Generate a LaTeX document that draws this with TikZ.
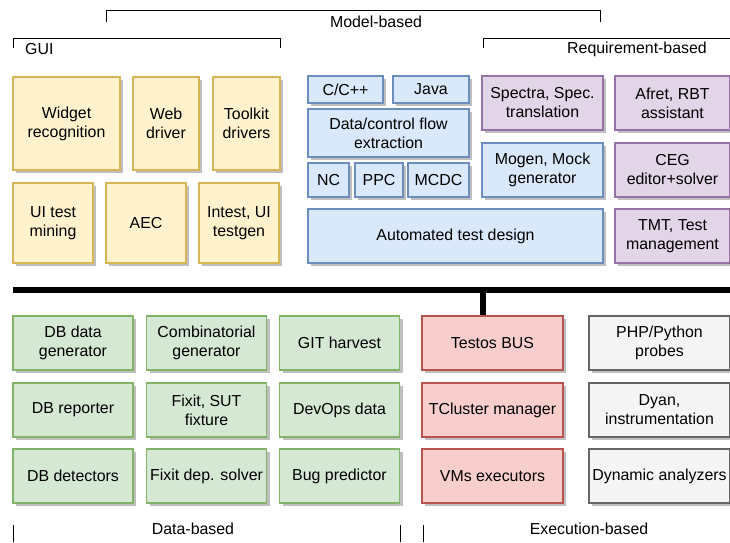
\documentclass[tikz,border=0pt]{standalone}
\usepackage{fontspec}
\setmainfont{Liberation Sans}
\usetikzlibrary{shadows}
\definecolor{guifill}{HTML}{FFF2CC}
\definecolor{guiline}{HTML}{D6B656}
\definecolor{modelfill}{HTML}{DAE8FC}
\definecolor{modelline}{HTML}{6C8EBF}
\definecolor{reqfill}{HTML}{E1D5E7}
\definecolor{reqline}{HTML}{9673A6}
\definecolor{datafill}{HTML}{D5E8D4}
\definecolor{dataline}{HTML}{82B366}
\definecolor{execfill}{HTML}{F8CECC}
\definecolor{execline}{HTML}{B85450}
\definecolor{probefill}{HTML}{F5F5F5}
\definecolor{probeline}{HTML}{666666}
\begin{document}
\begin{tikzpicture}[x=1pt, y=-1pt,
    every node/.style = {font=\fontsize{15.9}{19}\selectfont, align=center, inner sep=0pt},
    box/.style = {draw, line width=1.2pt, minimum height=54pt,
        drop shadow={shadow xshift=3pt, shadow yshift=-3pt, fill=black!25, opacity=1}},
    gui/.style = {box, fill=guifill, draw=guiline, minimum width=80pt, minimum height=80pt},
    model/.style = {box, fill=modelfill, draw=modelline},
    req/.style = {box, fill=reqfill, draw=reqline, minimum width=115pt},
    data/.style = {box, fill=datafill, draw=dataline, minimum width=120pt},
    exec/.style = {box, fill=execfill, draw=execline, minimum width=141pt},
    probe/.style = {box, fill=probefill, draw=probeline, minimum width=141pt},
    bracket/.style = {draw, line width=1pt},
    bus/.style = {draw, line width=6pt}]
    \useasboundingbox (0,0) rectangle (730,542);

    % brackets on top
    \draw[bracket] (106,22) -- (106,10) -- (600,10) -- (600,22);
    \node (modellbl) at (376,22) {Model-based};
    \draw[bracket] (13,48) -- (13,38) -- (280,38) -- (280,48);
    \node[anchor=west] (guilbl) at (25,49) {GUI};
    \draw[bracket] (483,48) -- (483,38) -- (730,38);
    \node (reqlbl) at (637,49) {Requirement-based};

    % GUI
    \node[gui, minimum width=107pt, minimum height=93pt] (widget) at (66.5,123.5) {Widget\\recognition};
    \node[gui, minimum width=66pt, minimum height=93pt] (web) at (166,123.5) {Web\\driver};
    \node[gui, minimum width=67pt, minimum height=93pt] (toolkit) at (246.5,123.5) {Toolkit\\drivers};
    \node[gui] (mining) at (53,223) {UI test\\mining};
    \node[gui] (aec) at (146,223) {AEC};
    \node[gui] (intest) at (239,223) {Intest, UI\\testgen};

    % model-based
    \node[model, minimum width=75pt, minimum height=27pt] (cpp) at (345.5,89.5) {C/C++};
    \node[model, minimum width=76pt, minimum height=27pt] (java) at (431,89.5) {Java};
    \node[model, minimum width=161pt, minimum height=48pt] (flow) at (388.5,133) {Data/control flow\\extraction};
    \node[model, minimum width=41pt, minimum height=34pt] (nc) at (328.5,180) {NC};
    \node[model, minimum width=48pt, minimum height=34pt] (ppc) at (379,180) {PPC};
    \node[model, minimum width=61pt, minimum height=34pt] (mcdc) at (438.5,180) {MCDC};
    \node[model, minimum width=121pt] (mogen) at (542.5,170) {Mogen, Mock\\generator};
    \node[model, minimum width=295pt] (atd) at (455.5,236) {Automated test design};

    % requirement-based
    \node[req, minimum width=121pt] (spectra) at (542.5,103) {Spectra, Spec.\\translation};
    \node[req] (afret) at (672.5,103) {Afret, RBT\\assistant};
    \node[req] (ceg) at (672.5,170) {CEG\\editor+solver};
    \node[req] (tmt) at (672.5,236) {TMT, Test\\management};

    % data-based
    \node[data] (dbgen) at (73,343) {DB data\\generator};
    \node[data] (comb) at (206.5,343) {Combinatorial\\generator};
    \node[data] (git) at (339.5,343) {GIT harvest};
    \node[data] (dbrep) at (73,410) {DB reporter};
    \node[data] (fixit) at (206.5,410) {Fixit, SUT\\fixture};
    \node[data] (devops) at (339.5,410) {DevOps data};
    \node[data] (dbdet) at (73,476) {DB detectors};
    \node[data] (fixdep) at (206.5,476) {Fixit dep. solver};
    \node[data] (bug) at (339.5,476) {Bug predictor};

    % execution-based
    \node[exec] (testos) at (492.5,343) {Testos BUS};
    \node[exec] (tcluster) at (492.5,410) {TCluster manager};
    \node[exec] (vms) at (492.5,476) {VMs executors};
    \node[probe] (php) at (659.5,343) {PHP/Python\\probes};
    \node[probe] (dyan) at (659.5,410) {Dyan,\\instrumentation};
    \node[probe] (dynan) at (659.5,476) {Dynamic analyzers};

    % bus
    \coordinate (busL) at (13,290);
    \coordinate (busR) at (730,290);
    \coordinate (busT) at (482.5,290);
    \draw[bus] (busL) -- (busR);
    \draw[bus] (busT) -- (busT |- testos.north);

    % bottom labels
    \draw[bracket] (13,525) -- (13,542);
    \draw[bracket] (400,525) -- (400,542);
    \draw[bracket] (423,525) -- (423,542);
    \node (datalbl) at (193,529) {Data-based};
    \node (execlbl) at (589,529) {Execution-based};
\end{tikzpicture}
\end{document}
